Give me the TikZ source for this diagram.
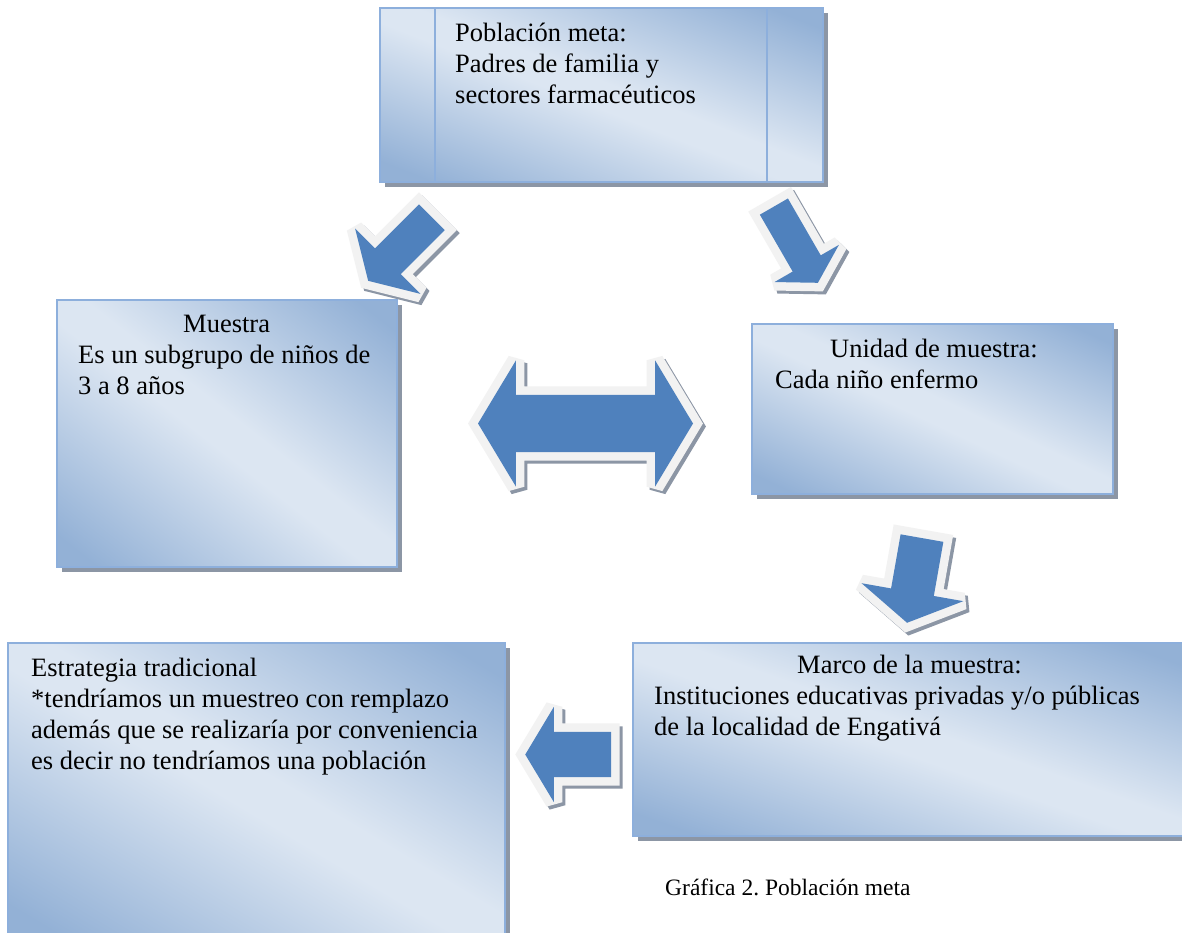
\documentclass[tikz,border=0pt]{standalone}
\usepackage{fontspec}
\setmainfont{Liberation Serif}
\usetikzlibrary{shapes.arrows}

\definecolor{cajaosc}{RGB}{147,177,214}
\definecolor{cajaclara}{RGB}{220,230,242}
\definecolor{borde}{RGB}{141,175,220}
\definecolor{sombra}{RGB}{140,150,165}
\definecolor{azul}{RGB}{79,129,189}
\definecolor{orla}{RGB}{242,242,242}

\pgfdeclareverticalshading{cajafondo}{100bp}{color(0bp)=(cajaosc); color(28bp)=(cajaosc); color(48bp)=(cajaclara); color(52bp)=(cajaclara); color(72bp)=(cajaosc); color(100bp)=(cajaosc)}

\begin{document}
\begin{tikzpicture}[x=1pt,y=-1pt,
	caja/.style 2 args={rectangle, minimum width=#1pt, minimum height=#2pt, draw=borde, line width=1.5pt, fill=cajaclara,
		preaction={fill=sombra, transform canvas={shift={(5pt,-5pt)}}},
		path picture={
			\pgfmathsetmacro\cajaang{-atan(#2/#1)}
			\pgfmathsetmacro\cajadd{#2/veclen(#1,#2)*#1}
			\pgfmathsetmacro\cajall{veclen(#1,#2)/2+20}
			\shade[shading=cajafondo, shift={(path picture bounding box.center)},
				transform canvas={rotate around={\cajaang:(path picture bounding box.center)}}]
				(-\cajall pt,-\cajadd pt) rectangle (\cajall pt,\cajadd pt);
		}},
	texto/.style={font=\fontsize{26.5}{31}\selectfont, align=left, inner sep=0pt,
		anchor=north west, execute at begin node=\strut},
	flecha/.style={fill=azul, inner xsep=0pt, minimum width=0pt, line join=miter, miter limit=2,
		preaction={draw=sombra, fill=sombra, line width=17pt, line join=miter, miter limit=2, transform canvas={shift={(3pt,-3pt)}}},
		preaction={draw=orla, fill=orla, line width=17pt, line join=miter, miter limit=2}}]

	\fill[white] (0,0) rectangle (1182,932);
	\useasboundingbox (0,0) rectangle (1182,932);

	% cajas
	\node[caja={443}{174}] (pob) at (601.5,95) {};
	\node[caja={340}{267}] (mue) at (227,433.5) {};
	\node[caja={361}{170}] (uni) at (932.5,409) {};
	\node[caja={553}{193}] (mar) at (909.5,739.5) {};
	\node[caja={497}{297}] (est) at (256.5,791.5) {};
	\draw[borde, line width=1.5pt] (435,8) -- (435,182);
	\draw[borde, line width=1.5pt] (767,8) -- (767,182);

	% textos
	\node[texto] (pobtxt) at (455,23.3) {Población meta:\\Padres de familia y\\sectores farmacéuticos};
	\node[texto] (muetxt) at (78,315.3) {\hspace*{105pt}Muestra\\Es un subgrupo de niños de\\3 a 8 años};
	\node[texto] (unitxt) at (775,339.3) {\hspace*{55pt}Unidad de muestra:\\Cada niño enfermo};
	\node[texto] (martxt) at (654,655.3) {\hspace*{143pt}Marco de la muestra:\\Instituciones educativas privadas y/o públicas\\de la localidad de Engativá};
	\node[texto] (esttxt) at (31,658.3) {Estrategia tradicional\\{*}tendríamos un muestreo con remplazo\\además que se realizaría por conveniencia\\es decir no tendríamos una población};
	\node[font=\fontsize{23.5}{28}\selectfont\frenchspacing, anchor=base west, inner sep=0pt] (grafica) at (665,895) {Gráfica 2. Población meta};

	% flechas
	\begin{scope}[every node/.style={flecha, single arrow, single arrow tip angle=118, anchor=tip}]
		\node[inner ysep=18pt, single arrow head extend=28pt, minimum height=90pt, rotate=225] (amue) at (368,281) {};
		\node[inner ysep=16pt, single arrow head extend=21pt, minimum height=88pt, rotate=-60] (auni) at (818,283) {};
		\node[inner ysep=21.5pt, single arrow head extend=30pt, minimum height=86pt, rotate=-100] (amar) at (907,623) {};
		\node[inner ysep=22.5pt, single arrow head extend=25pt, minimum height=86pt, rotate=180] (aest) at (525,754.5) {};
	\end{scope}
	\node[flecha, double arrow, double arrow tip angle=118, inner ysep=28.5pt,
		double arrow head extend=34.5pt, minimum height=215pt] (ambas) at (585.5,423.5) {};
\end{tikzpicture}
\end{document}
